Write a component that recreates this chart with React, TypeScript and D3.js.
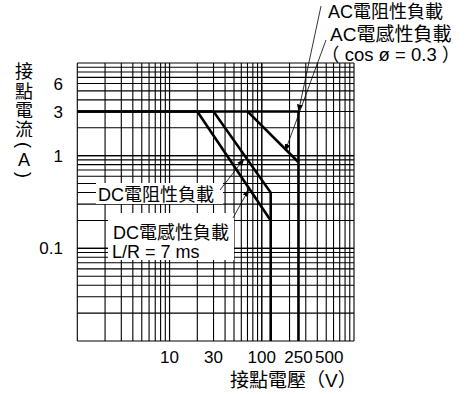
import React from 'react';
import * as d3 from 'd3';

const W = 465;
const H = 394;

// axis domains
const voltageDomain = [1, 1000];
const currentDomain = [0.01, 10];

// tick labels
const xTickLabels = [10, 30, 100, 250, 500];
const yTickLabels = [6, 3, 1, 0.1];

// curves: [voltage V, current A]
const acResistive: [number, number][] = [[1, 3], [250, 3], [250, 0.01]];
const acInductive: [number, number][] = [[70, 3], [250, 0.85]];
const dcResistive: [number, number][] = [[1, 3], [30, 3], [125, 0.4], [125, 0.01]];
const dcInductive: [number, number][] = [[20, 3], [125, 0.2]];

const FONT = "'Liberation Sans', 'Noto Sans CJK TC', sans-serif";

function along(a: [number, number], b: [number, number], t: number): [number, number] {
  const lv = Math.log10(a[0]) + t * (Math.log10(b[0]) - Math.log10(a[0]));
  const li = Math.log10(a[1]) + t * (Math.log10(b[1]) - Math.log10(a[1]));
  return [Math.pow(10, lv), Math.pow(10, li)];
}

export default function App() {
  const x = d3.scaleLog().domain(voltageDomain).range([77.3, 354]);
  const y = d3.scaleLog().domain(currentDomain).range([341, 63]);

  const xGrid: number[] = [];
  for (let d = 1; d < 1000; d *= 10) for (let k = 1; k <= 10; k++) xGrid.push(k * d);
  const yGrid: number[] = [];
  for (let d = 0.01; d < 10; d *= 10) for (let k = 1; k <= 10; k++) yGrid.push(+(k * d).toPrecision(3));

  const line = d3.line<[number, number]>().x(d => x(d[0])).y(d => y(d[1]));

  // annotation tips on curves
  const tipAcR: [number, number] = [x(250), y(3)];
  const pAcI = along(acInductive[0], acInductive[1], 0.76);
  const tipAcI: [number, number] = [x(pAcI[0]) - 1, y(pAcI[1]) + 1];
  const pDcR = along(dcResistive[1], dcResistive[2], 0.55);
  const tipDcR: [number, number] = [x(pDcR[0]) - 1, y(pDcR[1]) + 3];
  const pDcI = along(dcInductive[0], dcInductive[1], 0.7);
  const tipDcI: [number, number] = [x(pDcI[0]), y(pDcI[1]) + 2];

  const yTitle = ['接', '點', '電', '流'];
  const yTitleY = [72, 92, 111, 130];

  return (
    <svg width={W} height={H} style={{ position: 'absolute', left: 0, top: 0, background: '#fff' }}>
      <defs>
        <marker id="arr" markerUnits="userSpaceOnUse" markerWidth="8" markerHeight="6" refX="7" refY="3" orient="auto">
          <path d="M0,0 L7,3 L0,6 Z" fill="#000" />
        </marker>
      </defs>
      <rect x={0} y={0} width={W} height={H} fill="#fff" />
      {/* grid */}
      <g stroke="#000" strokeWidth={1.1}>
        {xGrid.map((v, i) => (
          <line key={'x' + i} x1={x(v)} x2={x(v)} y1={y(10)} y2={y(0.01)} />
        ))}
        {yGrid.map((v, i) => (
          <line key={'y' + i} x1={x(1)} x2={x(1000)} y1={y(v)} y2={y(v)} />
        ))}
      </g>
      {/* curves */}
      <g fill="none" stroke="#000" strokeWidth={2.6} strokeLinejoin="miter">
        <path d={line(acResistive) || ''} />
        <path d={line(acInductive) || ''} />
        <path d={line(dcResistive) || ''} />
        <path d={line(dcInductive) || ''} />
      </g>
      {/* label backgrounds */}
      <rect x={96} y={183} width={127} height={21} fill="#fff" />
      <rect x={108} y={213} width={126} height={47} fill="#fff" />
      {/* leaders */}
      <g stroke="#000" strokeWidth={0.8} fill="none">
        <line x1={321} y1={6} x2={tipAcR[0]} y2={tipAcR[1]} markerEnd="url(#arr)" />
        <line x1={326} y1={40} x2={tipAcI[0]} y2={tipAcI[1]} markerEnd="url(#arr)" />
        <line x1={220} y1={190} x2={tipDcR[0]} y2={tipDcR[1]} markerEnd="url(#arr)" />
        <line x1={233} y1={218} x2={tipDcI[0]} y2={tipDcI[1]} markerEnd="url(#arr)" />
      </g>
      {/* tick labels */}
      <g fontFamily={FONT} fontSize={17} fill="#000">
        {yTickLabels.map(v => (
          <text key={'yt' + v} x={63} y={y(v)} dy="0.36em" textAnchor="end">{v}</text>
        ))}
        {xTickLabels.map(v => (
          <text key={'xt' + v} x={x(v) + (v === 500 ? 3 : 0)} y={363} textAnchor="middle">{v}</text>
        ))}
      </g>
      {/* titles */}
      <g fontFamily={FONT} fontSize={18} fill="#000">
        {yTitle.map((c, i) => (
          <text key={'yc' + i} x={24} y={yTitleY[i]} dy="0.36em" textAnchor="middle">{c}</text>
        ))}
        <text x={0} y={0} dy="0.33em" textAnchor="middle" transform="translate(24,145) rotate(90)">(</text>
        <text x={24} y={160} dy="0.36em" textAnchor="middle">A</text>
        <text x={0} y={0} dy="0.33em" textAnchor="middle" transform="translate(24,175) rotate(90)">)</text>
        <text x={230} y={387} fontSize={19}>接點電壓（V）</text>
        <text x={328} y={18} fontSize={18}>AC電阻性負載</text>
        <text x={330} y={41} fontSize={19}>AC電感性負載</text>
        <text x={321} y={61} fontSize={18.5}>（ cos ø = 0.3 ）</text>
        <text x={98} y={201}>DC電阻性負載</text>
        <text x={113} y={239}>DC電感性負載</text>
        <text x={112} y={258}>L/R = 7 ms</text>
      </g>
    </svg>
  );
}
